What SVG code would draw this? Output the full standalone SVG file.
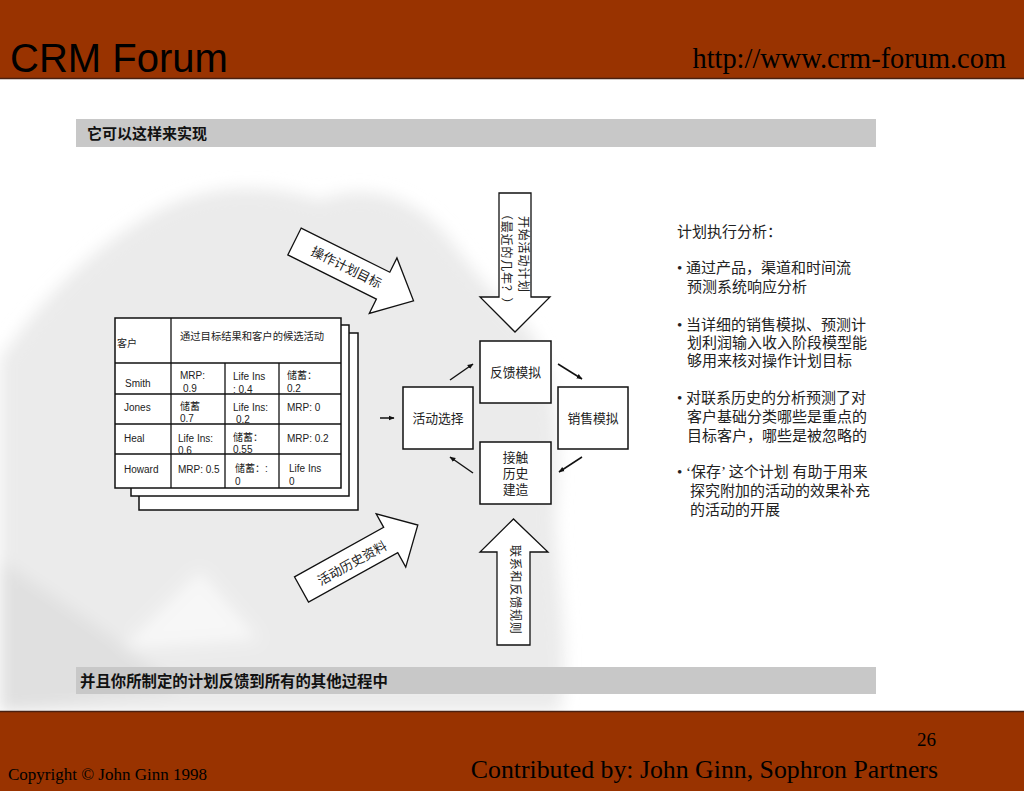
<svg xmlns="http://www.w3.org/2000/svg" width="1024" height="791" viewBox="0 0 1024 791">
<defs>
<style>
.cjk{font-family:"Liberation Sans","Noto Sans CJK SC",sans-serif;fill:#222}
.sm{font-size:10px}
.bx{fill:#fff;stroke:#111;stroke-width:1.5}
.big{fill:#fff;stroke:#111;stroke-width:1.3}
.cl{stroke:#111;stroke-width:1.3;fill:none}
.rt{font-family:"Liberation Serif","Noto Sans CJK SC",serif;font-size:15px;fill:#222}
.ct{font-family:"Liberation Sans","Noto Sans CJK SC",sans-serif;font-size:12.8px;fill:#222}
.vt{font-family:"Liberation Sans","Noto Sans CJK SC",sans-serif;font-size:12px;letter-spacing:0.8px;fill:#222}
.bar{fill:#c8c8c8}
.bt{font-family:"Liberation Sans","Noto Sans CJK SC",sans-serif;font-size:15px;font-weight:bold;fill:#111}
</style>
<marker id="ah" viewBox="0 0 10 10" refX="9" refY="5" markerWidth="6" markerHeight="6" orient="auto" markerUnits="userSpaceOnUse">
<path d="M0,1 L10,5 L0,9 Z" fill="#111"/>
</marker>
<filter id="blur" x="-10%" y="-10%" width="120%" height="120%"><feGaussianBlur stdDeviation="8"/></filter>
</defs>
<rect width="1024" height="791" fill="#fff"/>
<g id="texture" filter="url(#blur)">
<path d="M0,360 C40,300 90,250 150,215 C210,180 270,185 320,200 C370,180 420,200 450,240 C480,280 500,300 530,330 C560,380 560,450 555,520 C560,600 570,660 560,712 L0,712 Z" fill="#ebebeb"/>
<path d="M120,650 L200,570 L260,640 Z" fill="#f7f7f7"/>
<path d="M0,560 C60,600 120,640 180,690 L0,712 Z" fill="#e0e0e0"/>
</g>
<g id="header">
<rect x="0" y="0" width="1024" height="79" fill="#993300"/>
<line x1="0" y1="78.5" x2="1024" y2="78.5" stroke="#4a2010" stroke-width="1.5"/>
<text x="10" y="72" font-family="Liberation Sans, sans-serif" font-size="40" fill="#000">CRM Forum</text>
<text x="1006" y="68" text-anchor="end" font-family="Liberation Serif, serif" font-size="28.4" fill="#000">http://www.crm-forum.com</text>
</g>
<g id="footer">
<rect x="0" y="711" width="1024" height="80" fill="#993300"/>
<line x1="0" y1="711.5" x2="1024" y2="711.5" stroke="#4a2010" stroke-width="1.5"/>
<text x="936" y="746" text-anchor="end" font-family="Liberation Serif, serif" font-size="19" fill="#000">26</text>
<text x="938" y="778" text-anchor="end" font-family="Liberation Serif, serif" font-size="25.8" fill="#000">Contributed by: John Ginn, Sophron Partners</text>
<text x="8" y="780" font-family="Liberation Serif, serif" font-size="17" fill="#000">Copyright © John Ginn 1998</text>
</g>
<g id="title-bar">
<rect class="bar" x="76" y="119" width="800" height="28"/>
<text class="bt" x="87" y="139">它可以这样来实现</text>
</g>
<g id="bottom-bar">
<rect class="bar" x="76" y="667" width="800" height="27"/>
<text class="bt" x="80" y="687" style="font-size:15.4px">并且你所制定的计划反馈到所有的其他过程中</text>
</g>
<g id="table">
<rect class="bx" x="139" y="333" width="219" height="177"/>
<rect class="bx" x="131" y="325" width="218" height="171"/>
<rect class="bx" x="115" y="318" width="226" height="170"/>
<g class="cl">
<line x1="115" y1="363" x2="341" y2="363"/>
<line x1="115" y1="394" x2="341" y2="394"/>
<line x1="115" y1="424" x2="341" y2="424"/>
<line x1="115" y1="454" x2="341" y2="454"/>
<line x1="171" y1="318" x2="171" y2="488"/>
<line x1="225" y1="363" x2="225" y2="488"/>
<line x1="279" y1="363" x2="279" y2="488"/>
</g>
<g class="cjk sm">
<text x="117" y="347">客户</text>
<text x="180" y="340" style="font-size:10.3px">通过目标结果和客户的候选活动</text>
<text x="125" y="387">Smith</text>
<text x="180" y="379">MRP:</text><text x="183" y="392">0.9</text>
<text x="233" y="380">Life Ins</text><text x="233" y="393">: 0.4</text>
<text x="287" y="379">储蓄：</text><text x="287" y="392">0.2</text>
<text x="124" y="411">Jones</text>
<text x="180" y="410">储蓄</text><text x="180" y="422">0.7</text>
<text x="233" y="411">Life Ins:</text><text x="236" y="423">0.2</text>
<text x="287" y="411">MRP: 0</text>
<text x="124" y="442">Heal</text>
<text x="178" y="442">Life Ins:</text><text x="178" y="454">0.6</text>
<text x="233" y="441">储蓄：</text><text x="233" y="453">0.55</text>
<text x="287" y="442">MRP: 0.2</text>
<text x="124" y="473">Howard</text>
<text x="178" y="473">MRP: 0.5</text>
<text x="235" y="472">储蓄：:</text><text x="235" y="485">0</text>
<text x="289" y="472">Life Ins</text><text x="289" y="485">0</text>
</g>
</g>
<g id="arrow-ops-target" transform="translate(294.5,241.5) rotate(26.5)">
<path class="big" d="M0,-15 L99,-15 L99,-31 L133,0 L99,31 L99,15 L0,15 Z"/>
<text class="ct" x="58" y="4.5" text-anchor="middle">操作计划目标</text>
</g>
<g id="arrow-history" transform="translate(301.5,589.5) rotate(-29)">
<path class="big" d="M0,-14.5 L102,-14.5 L102,-30 L133,0 L102,31 L102,14.5 L0,14.5 Z"/>
<text class="ct" x="57" y="6" text-anchor="middle">活动历史资料</text>
</g>
<g id="arrow-start-plan">
<path class="big" d="M499,193 L531,193 L531,297 L550,297 L515,332 L480,297 L499,297 Z"/>
<text class="vt" transform="translate(519,216) rotate(90)">开始活动计划</text>
<text class="vt" transform="translate(502,208) rotate(90)">（最近的几年？）</text>
</g>
<g id="arrow-contact-rules">
<path class="big" d="M497,645 L530,645 L530,552 L548,552 L513.5,519 L480,552 L497,552 Z"/>
<text class="vt" transform="translate(510.5,545) rotate(90)">联系和反馈规则</text>
</g>
<g id="node-feedback">
<rect class="bx" x="480" y="341" width="71" height="62"/>
<text class="ct" x="515.5" y="377" text-anchor="middle">反馈模拟</text>
</g>
<g id="node-select">
<rect class="bx" x="403" y="387" width="70" height="62"/>
<text class="ct" x="438" y="423" text-anchor="middle">活动选择</text>
</g>
<g id="node-sales">
<rect class="bx" x="558" y="387" width="70" height="62"/>
<text class="ct" x="593" y="423" text-anchor="middle">销售模拟</text>
</g>
<g id="node-contact">
<rect class="bx" x="480" y="442" width="71" height="62"/>
<text class="ct" x="515.5" y="462" text-anchor="middle">接触</text>
<text class="ct" x="515.5" y="478" text-anchor="middle">历史</text>
<text class="ct" x="515.5" y="494" text-anchor="middle">建造</text>
</g>
<g id="connectors" stroke="#111" stroke-width="1.5" fill="none">
<line x1="380" y1="418" x2="394" y2="418" marker-end="url(#ah)"/>
<line x1="450" y1="380" x2="473" y2="364" marker-end="url(#ah)"/>
<line x1="558" y1="364" x2="582" y2="379" marker-end="url(#ah)"/>
<line x1="582" y1="457" x2="559" y2="472" marker-end="url(#ah)"/>
<line x1="473" y1="473" x2="450" y2="457" marker-end="url(#ah)"/>
</g>
<g id="notes" class="rt">
<text x="677" y="237">计划执行分析：</text>
<text x="677" y="273">• 通过产品，渠道和时间流</text>
<text x="687" y="292">预测系统响应分析</text>
<text x="677" y="330">• 当详细的销售模拟、预测计</text>
<text x="687" y="348">划利润输入收入阶段模型能</text>
<text x="687" y="366">够用来核对操作计划目标</text>
<text x="677" y="403">• 对联系历史的分析预测了对</text>
<text x="687" y="422">客户基础分类哪些是重点的</text>
<text x="687" y="441">目标客户，哪些是被忽略的</text>
<text x="677" y="477">• ‘保存’ 这个计划 有助于用来</text>
<text x="690" y="496">探究附加的活动的效果补充</text>
<text x="690" y="515">的活动的开展</text>
</g>
</svg>
